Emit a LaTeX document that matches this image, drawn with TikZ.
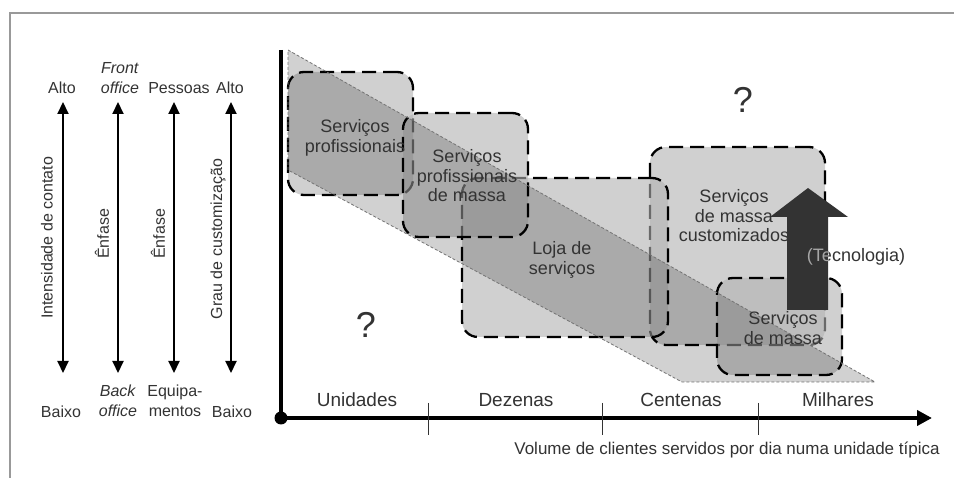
\documentclass[tikz,border=0pt]{standalone}
\usepackage{fontspec}
\setmainfont{Liberation Sans}
\usetikzlibrary{arrows.meta}

\begin{document}
\begin{tikzpicture}[x=1pt,y=-1pt,
  caixa/.style={draw=black,line width=2.3pt,dash pattern=on 14pt off 7pt,
    rounded corners=16pt,fill=black!30,fill opacity=0.6,inner sep=0pt},
  texto/.style={text=black!80,font=\fontsize{18}{19.5}\selectfont,align=center,inner sep=0pt},
  escala/.style={text=black!80,font=\fontsize{16}{20}\selectfont,align=center,inner sep=0pt},
  eixo/.style={text=black!80,font=\fontsize{19}{21}\selectfont,inner sep=0pt},
  dupla/.style={line width=2pt,{Triangle[length=12pt,width=11pt]}-{Triangle[length=12pt,width=11pt]}}]
  \fill [white] (0,0) rectangle (954,478);
  \useasboundingbox (0,0) rectangle (954,478);
  \draw [black!40,line width=2.5pt] (954,13) -- (10,13) -- (10,478);

  % escalas da esquerda
  \foreach \n/\x in {1/63,2/118,3/174,4/231} {
    \coordinate (s\n t) at (\x,102);
    \coordinate (s\n b) at (\x,373);
    \draw [dupla] (s\n t) -- (s\n b);
  }
  \node [escala] (alto1) at (62,88) {Alto};
  \node [escala] (front) at (120,78) {\textit{Front}\\\textit{office}};
  \node [escala] (pessoas) at (179,88) {Pessoas};
  \node [escala] (alto2) at (230,88) {Alto};
  \node [escala] (baixo1) at (61,412) {Baixo};
  \node [escala] (back) at (118,401) {\textit{Back}\\\textit{office}};
  \node [escala] (equip) at (175,401) {Equipa-\\mentos};
  \node [escala] (baixo2) at (232,412) {Baixo};
  \node [escala,rotate=90] (intens) at (47,238) {Intensidade de contato};
  \node [escala,rotate=90] (enfase1) at (102,234) {Ênfase};
  \node [escala,rotate=90] (enfase2) at (158,234) {Ênfase};
  \node [escala,rotate=90] (grau) at (218,239) {Grau de customização};

  % caixas
  \node [caixa,minimum width=175,minimum height=198] (cust) at (737.5,246) {};
  \node [caixa,minimum width=206,minimum height=159] (loja) at (565,257.5) {};
  \node [caixa,minimum width=125,minimum height=123] (prof) at (350.5,133.5) {};
  \node [caixa,minimum width=125,minimum height=124] (profm) at (465.5,175) {};
  \node [caixa,minimum width=125,minimum height=97] (massa) at (779.5,326.5) {};

  % faixa diagonal
  \draw [black!55,line width=0.8pt,dash pattern=on 3pt off 2pt,fill=black,fill opacity=0.18]
    (288,50) -- (875,382) -- (682,382) -- (288,170) -- cycle;

  \node [texto] (tprof) at (355,138) {Serviços\\profissionais};
  \node [texto] (tprofm) at (467,176) {Serviços\\profissionais\\de massa};
  \node [texto] (tloja) at (562,260) {Loja de\\serviços};
  \node [texto] (tcust) at (734,216) {Serviços\\de massa\\customizados};
  \node [texto] (tmassa) at (783,328) {Serviços\\de massa};

  % seta da tecnologia
  \fill [black!80] (787,310) -- (787,217) -- (770,217) -- (808,188) -- (848,217)
    -- (828,217) -- (828,310) -- cycle;
  \node [texto] (tec) at (856,257) {(Tecnologia)};
  \begin{scope}
    \clip (787,217) rectangle (828,310);
    \node [texto,text=black!35] at (tec) {(Tecnologia)};
  \end{scope}

  \node [texto,font=\fontsize{36}{36}\selectfont] (q1) at (366,325) {?};
  \node [texto,font=\fontsize{36}{36}\selectfont] (q2) at (743,100) {?};

  % eixos
  \coordinate (origem) at (281,418);
  \coordinate (ytopo) at (281,50);
  \coordinate (xfim) at (932,418);
  \draw [line width=4pt,-{Triangle[length=15pt,width=15pt]}] (ytopo) -- (origem) -- (xfim);
  \fill (origem) circle (6.5);
  \foreach \x in {428,602,758}
    \draw [line width=1pt,black!80] (\x,403) -- (\x,435);
  \node [eixo] (unid) at (357,400) {Unidades};
  \node [eixo] (dez) at (516,400) {Dezenas};
  \node [eixo] (cent) at (681,400) {Centenas};
  \node [eixo] (mil) at (838,400) {Milhares};
  \node [escala,font=\fontsize{17}{20}\selectfont] (volume) at (727,450) {Volume de clientes servidos por dia numa unidade típica};
\end{tikzpicture}
\end{document}
